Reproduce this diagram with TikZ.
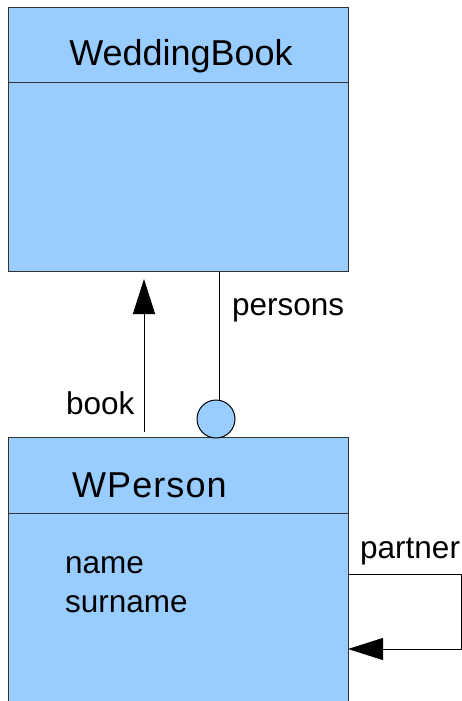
\documentclass[tikz,border=0pt]{standalone}
\usepackage{fontspec}
\setmainfont{Liberation Sans}
\usetikzlibrary{arrows.meta}
\definecolor{boxfill}{HTML}{99CCFF}
\definecolor{boxline}{HTML}{333333}
\begin{document}
\begin{tikzpicture}[x=1pt,y=-1pt,
  classbox/.style={draw=boxline,fill=boxfill,line width=1pt,rectangle,minimum width=340pt,inner sep=0pt,anchor=north west},
  titletext/.style={font=\fontsize{36}{40}\selectfont,inner sep=0pt},
  labeltext/.style={font=\fontsize{31.5}{38}\selectfont,inner sep=0pt},
  conn/.style={line width=1pt,black},
  tip/.style={-{Triangle[length=35pt,width=22pt]}}]
\useasboundingbox (0,0) rectangle (462,701);
\clip (0,0) rectangle (462,701);
\fill[white] (0,0) rectangle (462,701);
% WeddingBook
\node[classbox,minimum height=264pt] (wb) at (8,7) {};
\draw[boxline,line width=1pt] (8,82) -- (348,82);
\node[titletext,anchor=base] (wbt) at (181,66) {WeddingBook};
% WPerson
\node[classbox,minimum height=290pt] (wp) at (8,437) {};
\draw[boxline,line width=1pt] (8,513) -- (348,513);
\node[titletext,anchor=base west] (wpt) at (72,497) {\addfontfeature{LetterSpace=3}WPerson};
\node[labeltext,anchor=base west] (nm) at (65,573) {name};
\node[labeltext,anchor=base west] (snm) at (65,612) {surname};
% book association
\coordinate (bookstart) at (144,432);
\draw[conn,tip] (bookstart) -- ([yshift=-7pt]bookstart |- wb.south);
\node[labeltext,anchor=base west] (bookl) at (66,414) {book};
% persons association
\node[draw=black,fill=boxfill,circle,minimum size=38pt,inner sep=0pt,line width=1pt] (circ) at (216,419) {};
\draw[conn] ([xshift=3pt]circ.north) -- ([xshift=3pt]circ.north |- wb.south);
\node[labeltext,anchor=base west] (persl) at (232,315) {persons};
% partner self association
\coordinate (pstart) at (348,574);
\coordinate (pend) at (348,649);
\draw[conn,tip] (pstart) -- (461,574) |- (pend);
\node[labeltext,anchor=base west] (partl) at (360,558) {partner};
\end{tikzpicture}
\end{document}
